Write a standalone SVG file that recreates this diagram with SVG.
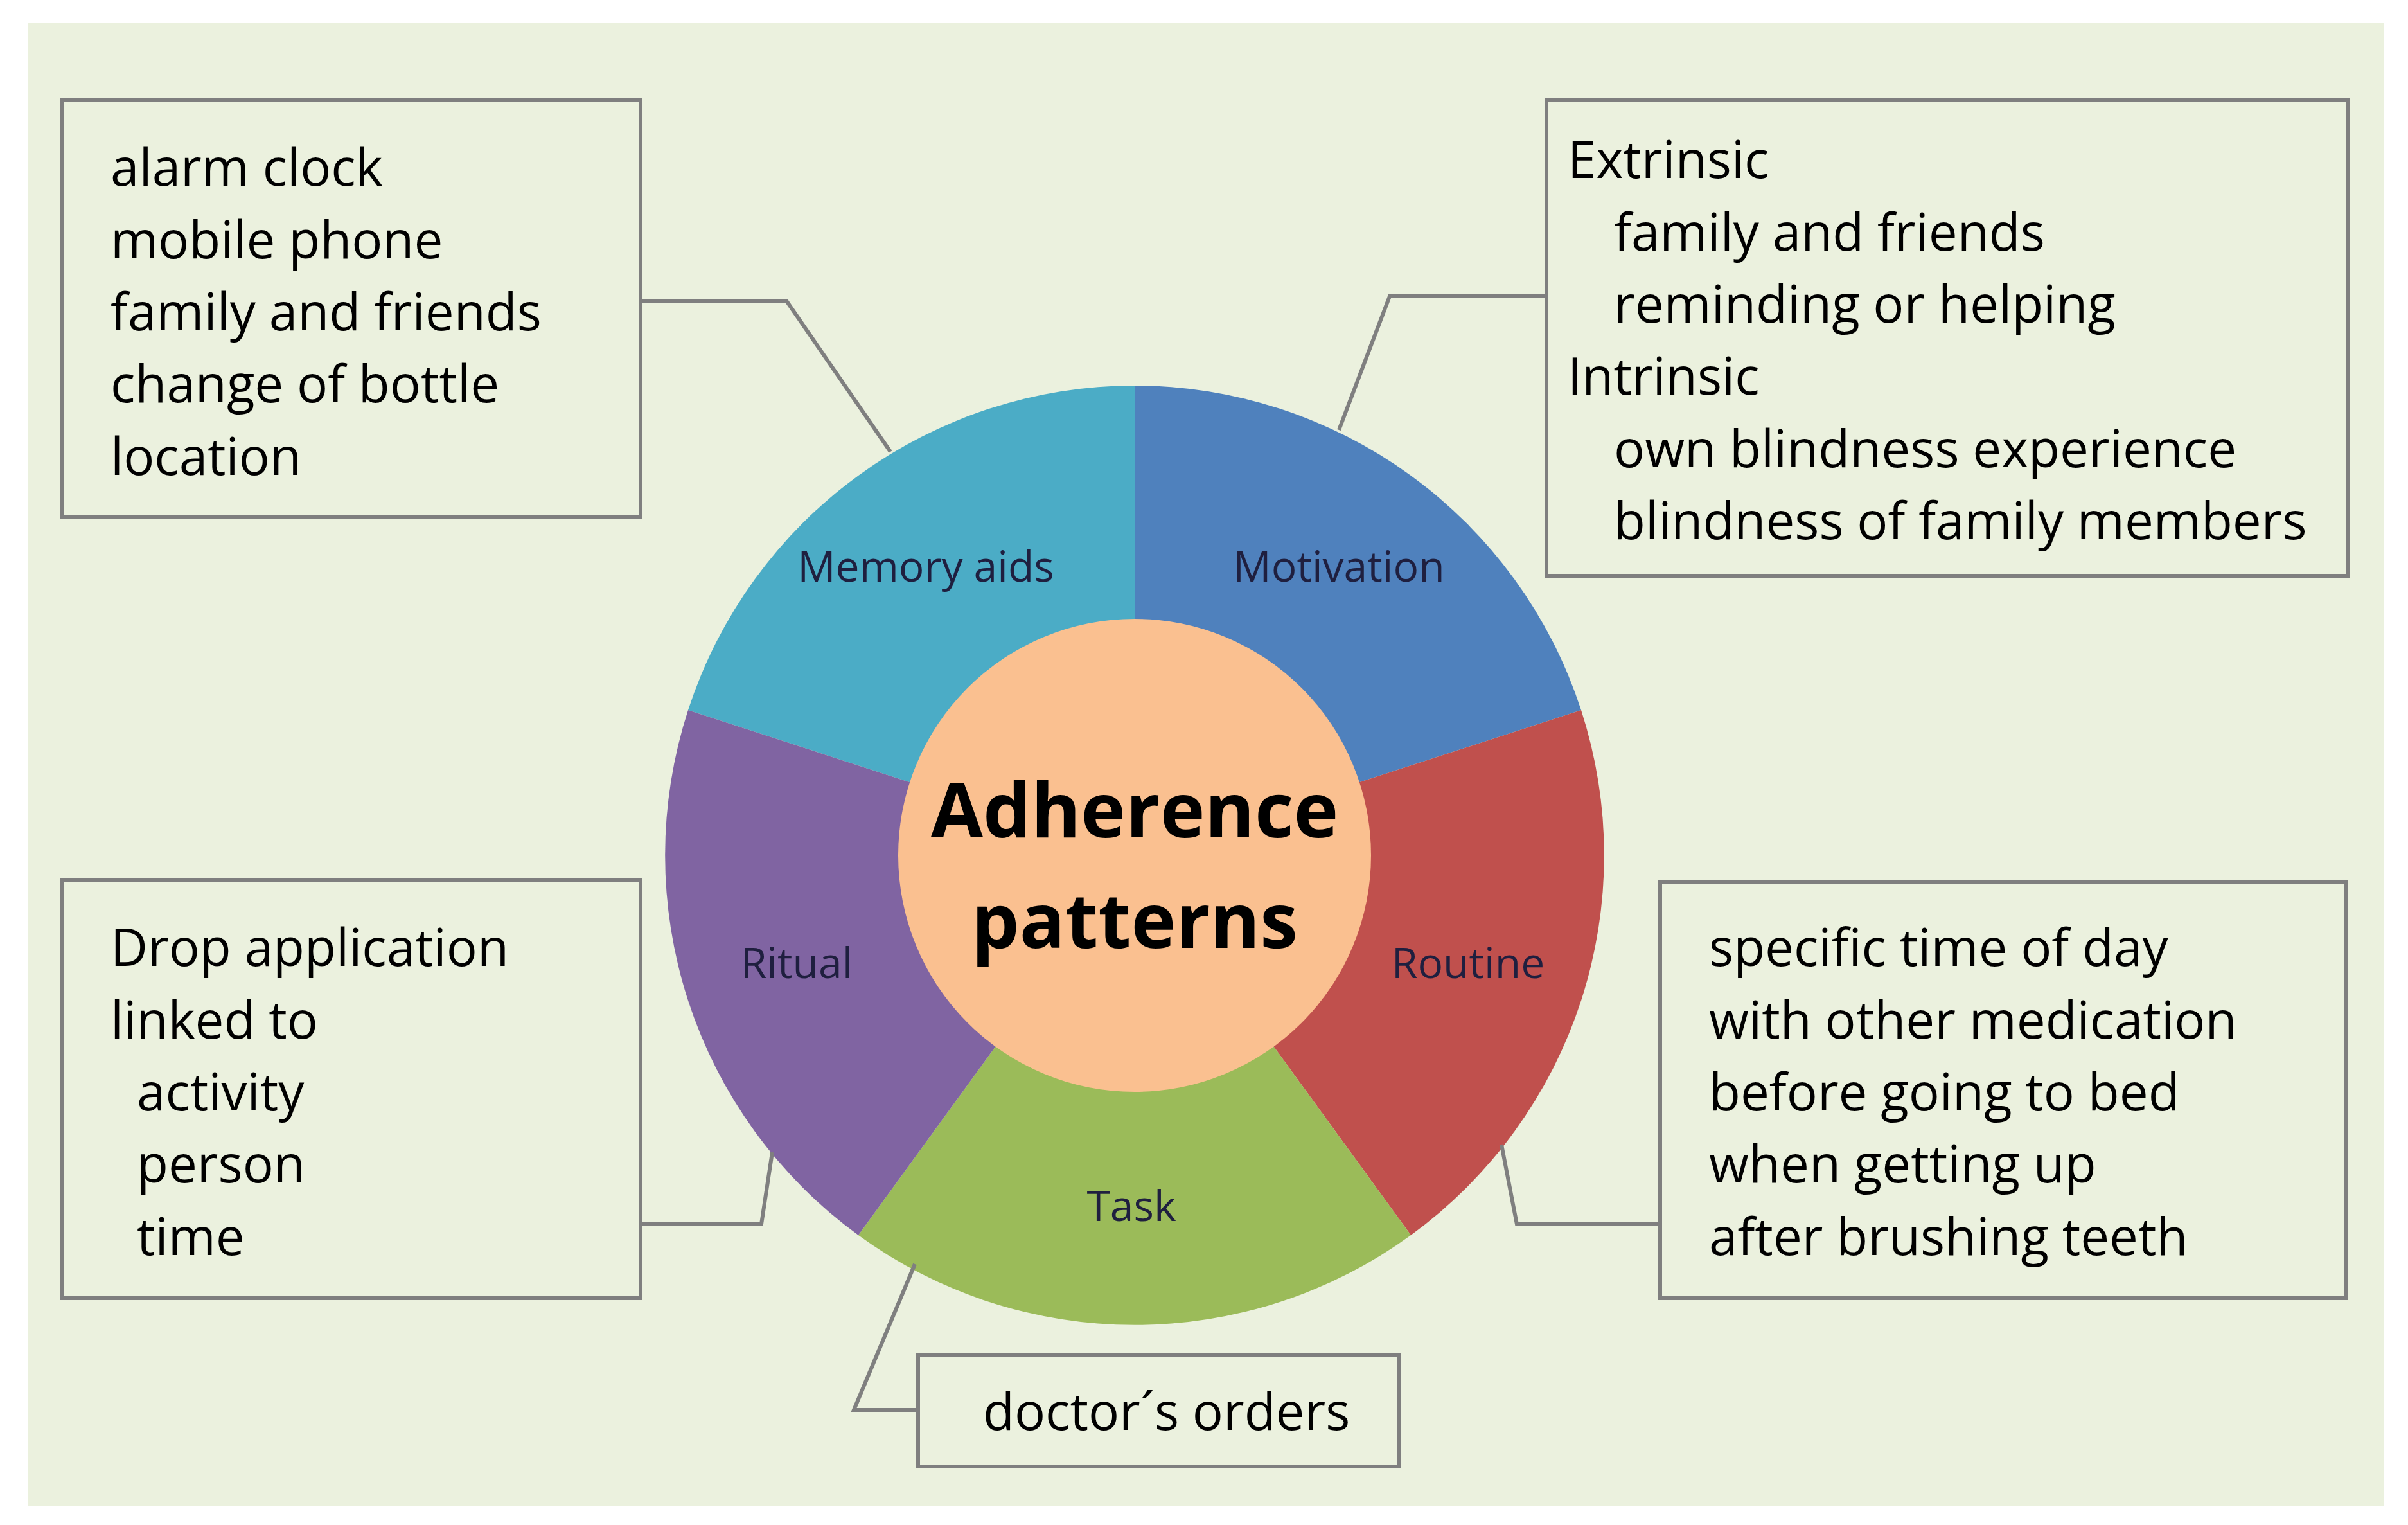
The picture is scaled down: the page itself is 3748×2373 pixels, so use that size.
<svg xmlns="http://www.w3.org/2000/svg" width="3748" height="2373" viewBox="0 0 3748 2373">
<style>
.box{fill:#ebf1de;stroke:#7f7f7f;stroke-width:6}
.t{font-family:"Open Sans","Liberation Sans",sans-serif;font-size:80px;fill:#000}
.s{font-family:"Open Sans","Liberation Sans",sans-serif;font-size:66px;fill:#1f1f3f;text-anchor:middle}
.c{font-family:"Open Sans","Liberation Sans",sans-serif;font-size:118px;font-weight:bold;fill:#000;text-anchor:middle}
.ln{fill:none;stroke:#7f7f7f;stroke-width:6}
</style>
<rect width="3748" height="2373" fill="#fff"/>
<rect x="43" y="36" width="3667" height="2307" fill="#ebf1de"/>
<g id="wheel">
<path d="M1766,1331 L1071,1105 A731,731 0 0 1 1766,600 Z" fill="#4bacc6"/>
<path d="M1766,1331 L1766,600 A731,731 0 0 1 2461,1105 Z" fill="#4f81bd"/>
<path d="M1766,1331 L2461,1105 A731,731 0 0 1 2196,1922 Z" fill="#c0504d"/>
<path d="M1766,1331 L2196,1922 A731,731 0 0 1 1336,1922 Z" fill="#9bbb59"/>
<path d="M1766,1331 L1336,1922 A731,731 0 0 1 1071,1105 Z" fill="#8064a2"/>
<text class="s" x="1441" y="905">Memory aids</text>
<text class="s" x="2084" y="905">Motivation</text>
<text class="s" x="2285" y="1522">Routine</text>
<text class="s" x="1761" y="1900">Task</text>
<text class="s" x="1240" y="1522">Ritual</text>
</g>
<g id="center">
<circle cx="1766" cy="1331" r="368" fill="#fac090"/>
<text class="c" x="1766" y="1303">Adherence</text>
<text class="c" x="1766" y="1475">patterns</text>
</g>
<g id="connectors">
<polyline class="ln" points="997,468 1224,468 1386,703"/>
<polyline class="ln" points="2407,461 2163,461 2084,669"/>
<polyline class="ln" points="997,1905 1185,1905 1202,1793"/>
<polyline class="ln" points="2588,1905 2361,1905 2337,1781"/>
<polyline class="ln" points="1429,2194 1329,2194 1424,1967"/>
</g>
<g id="memory-box">
<rect class="box" x="96" y="155" width="901" height="650"/>
<text class="t" x="172" y="289">alarm clock</text>
<text class="t" x="172" y="402">mobile phone</text>
<text class="t" x="172" y="514">family and friends</text>
<text class="t" x="172" y="626">change of bottle</text>
<text class="t" x="172" y="739">location</text>
</g>
<g id="motivation-box">
<rect class="box" x="2407" y="155" width="1247" height="741"/>
<text class="t" x="2440" y="277">Extrinsic</text>
<text class="t" x="2512" y="390">family and friends</text>
<text class="t" x="2512" y="502">reminding or helping</text>
<text class="t" x="2440" y="614">Intrinsic</text>
<text class="t" x="2512" y="727">own blindness experience</text>
<text class="t" x="2512" y="839">blindness of family members</text>
</g>
<g id="ritual-box">
<rect class="box" x="96" y="1369" width="901" height="651"/>
<text class="t" x="172" y="1503">Drop application</text>
<text class="t" x="172" y="1616">linked to</text>
<text class="t" x="213" y="1728">activity</text>
<text class="t" x="213" y="1840">person</text>
<text class="t" x="213" y="1953">time</text>
</g>
<g id="routine-box">
<rect class="box" x="2584" y="1372" width="1068" height="648"/>
<text class="t" x="2660" y="1503">specific time of day</text>
<text class="t" x="2660" y="1616">with other medication</text>
<text class="t" x="2660" y="1728">before going to bed</text>
<text class="t" x="2660" y="1840">when getting up</text>
<text class="t" x="2660" y="1953">after brushing teeth</text>
</g>
<g id="task-box">
<rect class="box" x="1429" y="2108" width="748" height="174"/>
<text class="t" x="1530" y="2225">doctor´s orders</text>
</g>
</svg>
